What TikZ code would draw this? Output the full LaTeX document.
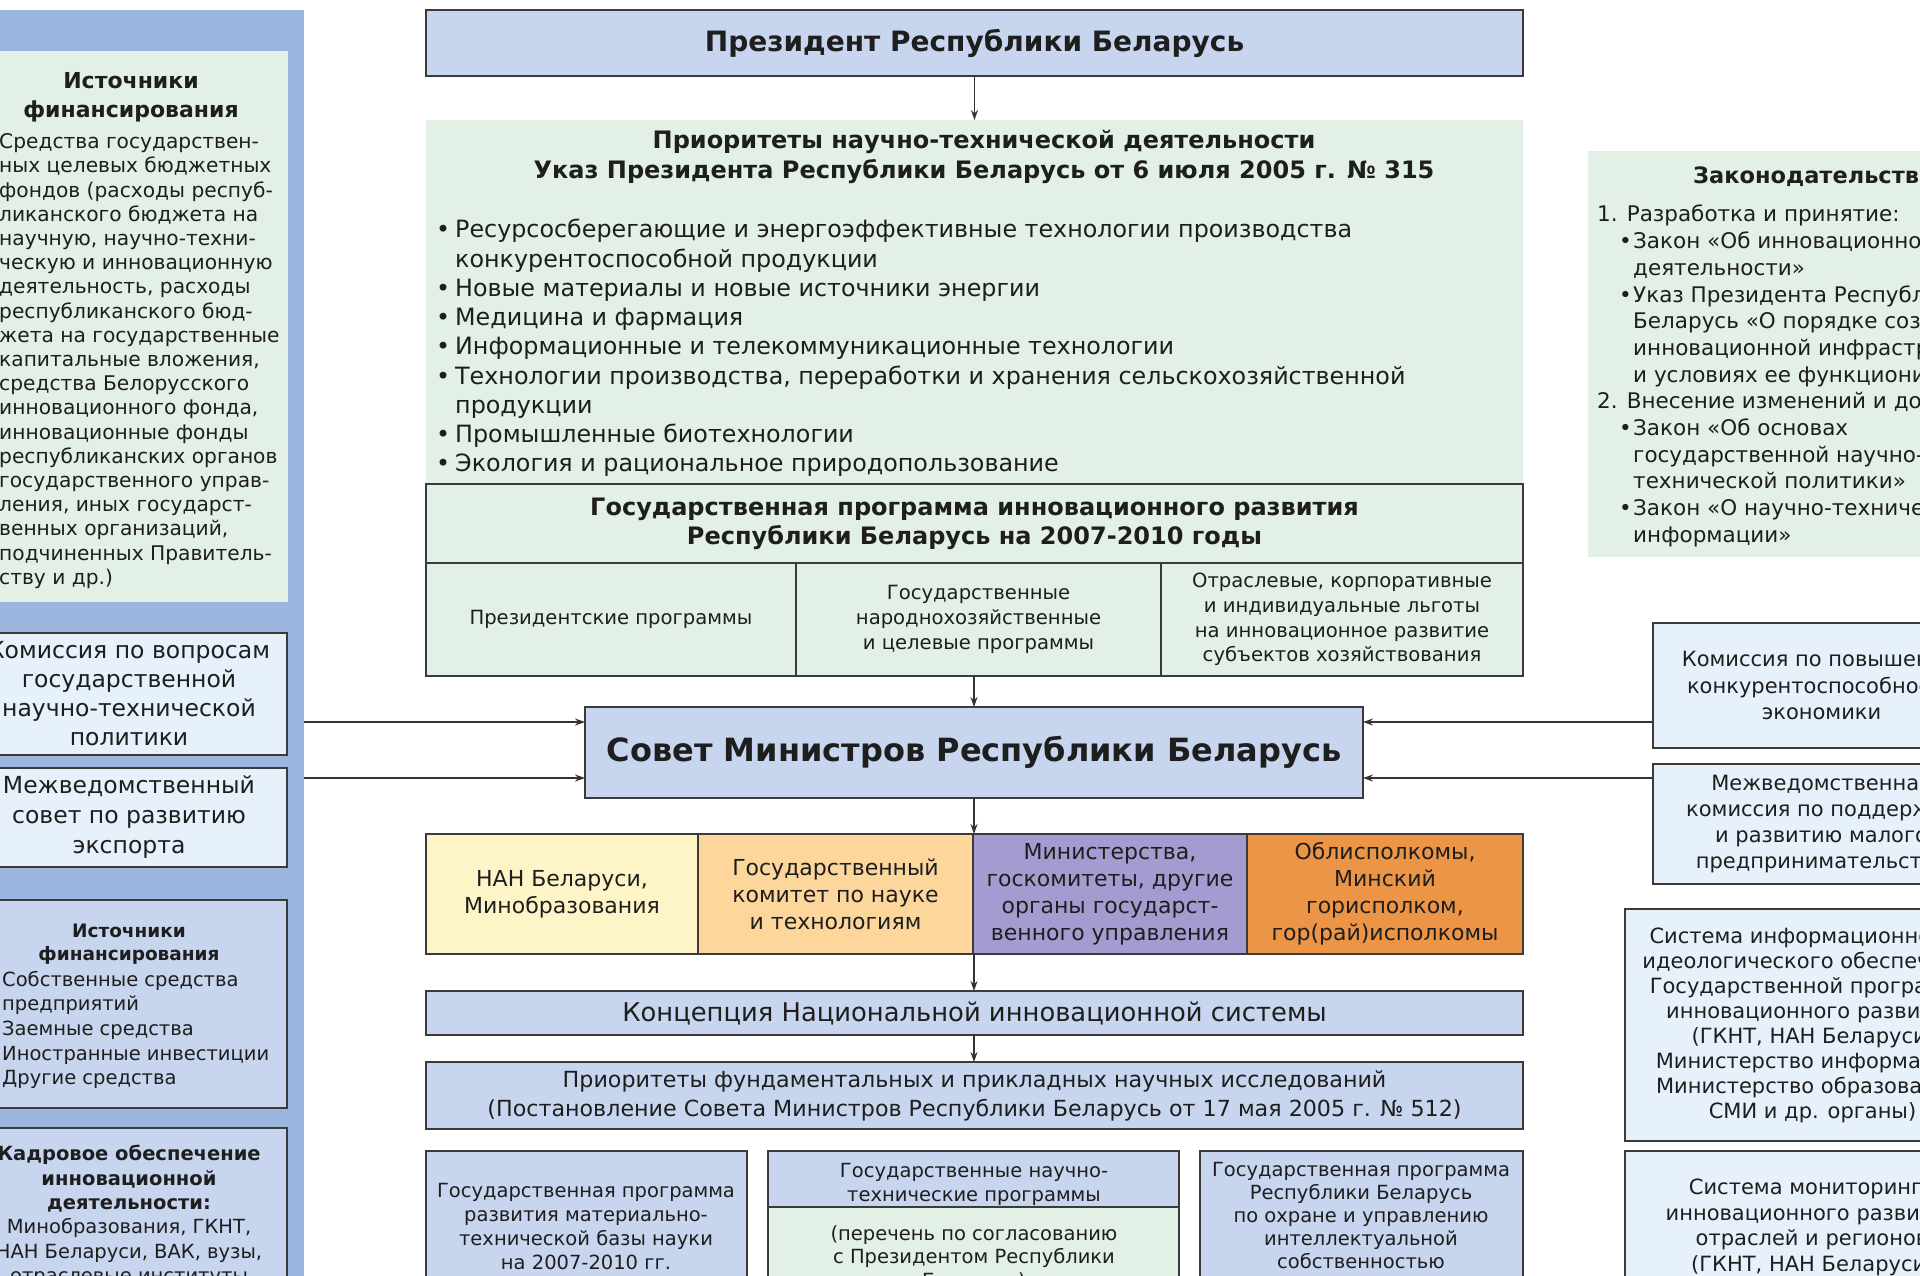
\documentclass[tikz,border=0pt]{standalone}
\usepackage{fontspec}
\setmainfont{DejaVu Sans}
\usetikzlibrary{arrows.meta}
\definecolor{panelc}{HTML}{9CB5DE}
\definecolor{greenc}{HTML}{E2F0E5}
\definecolor{bluec}{HTML}{C7D5EF}
\definecolor{lbluec}{HTML}{E6F1FB}
\definecolor{yelc}{HTML}{FDF5C8}
\definecolor{lorc}{HTML}{FCD69A}
\definecolor{lavc}{HTML}{A59BD0}
\definecolor{orc}{HTML}{EC9547}
\definecolor{txtc}{HTML}{1E1E1E}
\definecolor{bordc}{HTML}{3B3B3B}
\definecolor{arrc}{HTML}{333333}
\newcommand{\myfs}[2]{\fontsize{#1}{#2}\selectfont}
\newcommand{\boxat}[7]{\node[#6, minimum width={(#4)-(#2)}, minimum height={(#5)-(#3)}, anchor=north west] (#1) at (#2,#3) {#7};}
\newcommand{\bul}{\makebox[19pt][l]{•}}
\newcommand{\ind}{\hspace*{19pt}}
\newcommand{\lawb}{\hspace*{22pt}\makebox[14pt][l]{•}}
\newcommand{\lawi}{\hspace*{36pt}}
\tikzset{
  lbl/.style={text=txtc, inner sep=0pt},
  plain/.style={inner sep=0pt, outer sep=0pt, text=txtc, align=center},
  gbox/.style={plain, fill=greenc},
  gbox2/.style={plain, fill=greenc, draw=bordc, line width=1.8pt},
  bbox/.style={plain, fill=bluec, draw=bordc, line width=1.8pt},
  lbbox/.style={plain, fill=lbluec, draw=bordc, line width=1.8pt},
  cbox/.style={plain, draw=bordc, line width=1.8pt, font=\myfs{22}{27}},
  arr/.style={draw=arrc, line width=1.4pt, -{Stealth[length=10pt,width=7pt]}},
}
\begin{document}
\begin{tikzpicture}[x=1pt,y=-1pt]
\useasboundingbox (0,0) rectangle (1920,1275);
\clip (0,0) rectangle (1920,1275);
\fill[white] (0,0) rectangle (1920,1275);

% ---------- left column ----------
\boxat{lpanel}{-10}{10}{304}{1300}{plain, fill=panelc}{}
\boxat{lsrc}{-30}{51}{288}{602}{gbox}{}
\node[lbl, font=\bfseries\myfs{22}{29}, align=center] (lsrch) at (131,97) {Источники\\финансирования};
\node[lbl, font=\myfs{20.2}{24.2}, align=left, anchor=west] (lsrcb) at (-1,361) {Средства государствен-\\ных целевых бюджетных\\фондов (расходы респуб-\\ликанского бюджета на\\научную, научно-техни-\\ческую и инновационную\\деятельность, расходы\\республиканского бюд-\\жета на государственные\\капитальные вложения,\\средства Белорусского\\инновационного фонда,\\инновационные фонды\\республиканских органов\\государственного управ-\\ления, иных государст-\\венных организаций,\\подчиненных Правитель-\\ству и др.)};

\boxat{lkom}{-29}{633}{287}{755}{lbbox, font=\myfs{23.5}{29}}{Комиссия по вопросам\\государственной\\научно-технической\\политики}
\boxat{lmez}{-29}{768}{287}{867}{lbbox, font=\myfs{23.5}{30}}{Межведомственный\\совет по развитию\\экспорта}

\boxat{lsrc2}{-29}{900}{287}{1108}{bbox}{}
\node[lbl, font=\bfseries\myfs{18.5}{23.5}, align=center] (lsrc2h) at (129,944) {Источники\\финансирования};
\node[lbl, font=\myfs{19.5}{24.7}, align=left, anchor=west] (lsrc2b) at (2,1030) {Собственные средства\\предприятий\\Заемные средства\\Иностранные инвестиции\\Другие средства};

\boxat{lkadr}{-29}{1128}{287}{1320}{bbox}{}
\node[lbl, font=\myfs{19.5}{24.4}, align=center, anchor=north] (lkadrt) at (129,1145) {\textbf{Кадровое обеспечение}\\\textbf{инновационной}\\\textbf{деятельности:}\\Минобразования, ГКНТ,\\НАН Беларуси, ВАК, вузы,\\отраслевые институты};

% ---------- middle column ----------
\boxat{pres}{426}{10}{1523}{76}{bbox, font=\bfseries\myfs{28}{32}}{Президент Республики Беларусь}

\boxat{prio}{426}{120}{1523}{484}{gbox}{}
\node[lbl, font=\bfseries\myfs{24}{29.5}, align=center] (priot) at (984,157) {Приоритеты научно-технической деятельности\\Указ Президента Республики Беларусь от 6 июля 2005 г. № 315};
\node[lbl, font=\myfs{23.8}{29.25}, align=left, anchor=west] (priob) at (436,348) {\bul Ресурсосберегающие и энергоэффективные технологии производства\\\ind конкурентоспособной продукции\\\bul Новые материалы и новые источники энергии\\\bul Медицина и фармация\\\bul Информационные и телекоммуникационные технологии\\\bul Технологии производства, переработки и хранения сельскохозяйственной\\\ind продукции\\\bul Промышленные биотехнологии\\\bul Экология и рациональное природопользование};

\boxat{gp}{426}{484}{1523}{563}{gbox2, font=\bfseries\myfs{24}{29}}{Государственная программа инновационного развития\\Республики Беларусь на 2007-2010 годы}
\boxat{gp1}{426}{563}{796}{676}{gbox2, font=\myfs{19.6}{24.7}}{Президентские программы}
\boxat{gp2}{796}{563}{1161}{676}{gbox2, font=\myfs{19.6}{24.7}}{Государственные\\народнохозяйственные\\и целевые программы}
\boxat{gp3}{1161}{563}{1523}{676}{gbox2, font=\myfs{19.6}{24.7}}{Отраслевые, корпоративные\\и индивидуальные льготы\\на инновационное развитие\\субъектов хозяйствования}

\boxat{sov}{585}{707}{1363}{798}{bbox, font=\bfseries\myfs{32}{36}}{Совет Министров Республики Беларусь}

\boxat{d1}{426}{834}{698}{954}{cbox, fill=yelc}{НАН Беларуси,\\Минобразования}
\boxat{d2}{698}{834}{973}{954}{cbox, fill=lorc}{Государственный\\комитет по науке\\и технологиям}
\boxat{d3}{973}{834}{1247}{954}{cbox, fill=lavc}{Министерства,\\госкомитеты, другие\\органы государст-\\венного управления}
\boxat{d4}{1247}{834}{1523}{954}{cbox, fill=orc}{Облисполкомы,\\Минский\\горисполком,\\гор(рай)исполкомы}

\boxat{kon}{426}{991}{1523}{1035}{bbox, font=\myfs{25.8}{30}}{Концепция Национальной инновационной системы}
\boxat{pf}{426}{1062}{1523}{1129}{bbox, font=\myfs{22.2}{29}}{Приоритеты фундаментальных и прикладных научных исследований\\(Постановление Совета Министров Республики Беларусь от 17 мая 2005 г. № 512)}

\boxat{ba}{426}{1151}{747}{1320}{bbox}{}
\node[lbl, font=\myfs{19.5}{24}, align=center] (bat) at (586,1227) {Государственная программа\\развития материально-\\технической базы науки\\на 2007-2010 гг.};
\boxat{bbh}{768}{1151}{1179}{1207}{bbox}{}
\node[lbl, font=\myfs{19.5}{24}, align=center] (bbht) at (974,1184) {Государственные научно-\\технические программы};
\boxat{bbl}{768}{1207}{1179}{1320}{gbox2}{}
\node[lbl, font=\myfs{19.5}{23.5}, align=center, anchor=north] (bblt) at (974,1225) {(перечень по согласованию\\с Президентом Республики\\Беларусь)};
\boxat{bc}{1200}{1151}{1523}{1320}{bbox}{}
\node[lbl, font=\myfs{19.5}{23}, align=center] (bct) at (1361,1216) {Государственная программа\\Республики Беларусь\\по охране и управлению\\интеллектуальной\\собственностью};

% ---------- right column ----------
\boxat{law}{1588}{151}{2100}{557}{gbox}{}
\node[lbl, font=\bfseries\myfs{22.5}{26}, anchor=west] (lawt) at (1693,177) {Законодательство};
\node[lbl, font=\myfs{21.5}{26.7}, align=left, anchor=west] (lawb) at (1597,376) {1. Разработка и принятие:\\\lawb Закон «Об инновационной\\\lawi деятельности»\\\lawb Указ Президента Республики\\\lawi Беларусь «О порядке создания\\\lawi инновационной инфраструктуры\\\lawi и условиях ее функционирования»\\2. Внесение изменений и дополнений:\\\lawb Закон «Об основах\\\lawi государственной научно-\\\lawi технической политики»\\\lawb Закон «О научно-технической\\\lawi информации»};

\boxat{rk1}{1653}{623}{1990}{748}{lbbox, font=\myfs{21}{26.5}}{Комиссия по повышению\\конкурентоспособности\\экономики}
\boxat{rk2}{1653}{764}{1990}{884}{lbbox, font=\myfs{21}{26}}{Межведомственная\\комиссия по поддержке\\и развитию малого\\предпринимательства}
\boxat{rs}{1625}{909}{2000}{1141}{lbbox, font=\myfs{21}{25}}{Система информационного и\\идеологического обеспечения\\Государственной программы\\инновационного развития\\(ГКНТ, НАН Беларуси,\\Министерство информации,\\Министерство образования,\\СМИ и др. органы)}
\boxat{rm}{1625}{1151}{2000}{1320}{lbbox}{}
\node[lbl, font=\myfs{21}{25.5}, align=center, anchor=north] (rmt) at (1812,1179) {Система мониторинга\\инновационного развития\\отраслей и регионов\\(ГКНТ, НАН Беларуси,};

% ---------- connectors ----------
\draw[arr] (pres.south) -- (prio.north);
\draw[arr] (gp2.south -| sov.north) -- (sov.north);
\draw[arr] (sov.south) -- (sov.south |- d3.north);
\draw[arr] (sov.south |- d3.south) -- (sov.south |- kon.north);
\draw[arr] (kon.south -| sov.south) -- (pf.north -| sov.south);
\coordinate (la1) at (304,722);
\coordinate (la2) at (304,778);
\coordinate (ra1) at (1653,722);
\coordinate (ra2) at (1653,778);
\draw[arr] (la1) -- (la1 -| sov.west);
\draw[arr] (la2) -- (la2 -| sov.west);
\draw[arr] (ra1) -- (ra1 -| sov.east);
\draw[arr] (ra2) -- (ra2 -| sov.east);
\end{tikzpicture}
\end{document}
